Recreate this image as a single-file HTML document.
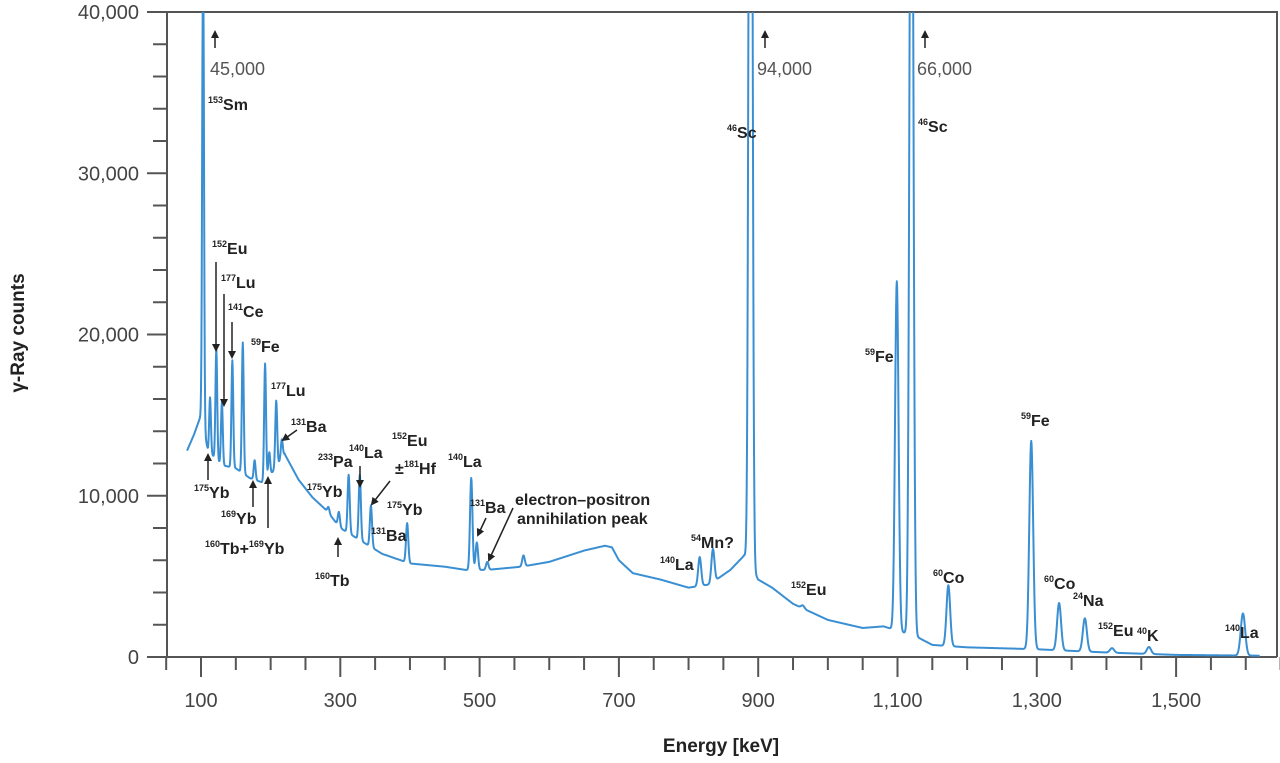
<!DOCTYPE html>
<html><head><meta charset="utf-8">
<style>
html,body{margin:0;padding:0;background:#fff;}
svg{display:block;}
.tick{font-family:"Liberation Sans",sans-serif;font-size:20px;fill:#444;}
.lab{font-family:"Liberation Sans Narrow","Liberation Sans",sans-serif;font-weight:bold;font-size:16px;fill:#222;}
.sup{font-size:9px;}
.big{font-family:"Liberation Sans",sans-serif;font-size:18px;fill:#555;}
.title{font-family:"Liberation Sans",sans-serif;font-weight:bold;font-size:19px;fill:#222;}
</style></head>
<body>
<svg id="chart" width="1280" height="763" viewBox="0 0 1280 763">
<defs>
<clipPath id="pc"><rect x="167" y="12" width="1111" height="660"/></clipPath>
<marker id="ah" markerWidth="8" markerHeight="8" refX="6" refY="4" orient="auto" markerUnits="userSpaceOnUse"><path d="M0,0 L8,4 L0,8 Z" fill="#222"/></marker>
</defs>
<g id="axes"></g>
<g id="series" clip-path="url(#pc)"></g>
<g id="ann"></g>
<text class="title" transform="translate(24,333) rotate(-90)" text-anchor="middle">γ-Ray counts</text>
<text class="title" x="721" y="752" text-anchor="middle">Energy [keV]</text>
</svg>
<script>
// ---- data ----
const baseE = [80,90,100,110,130,150,170,190,205,220,240,260,280,300,330,360,400,450,480,510,560,600,650,680,690,700,720,760,800,830,860,880,900,920,950,1000,1050,1080,1110,1130,1150,1200,1300,1400,1500,1620];
const baseC = [12800,13800,15000,12800,11900,11700,11100,10800,11600,12600,11000,9900,9100,8000,7200,6400,5800,5600,5400,5400,5600,5900,6600,6900,6800,6000,5200,4800,4300,4500,5400,6300,4800,4300,3300,2300,1800,1900,1500,1200,750,600,480,280,130,80];
const peakE = [103,113,122,130,145,160,177,192,198,208,216,283,298,312,328,344,356,396,488,496,511,563,816,835,889,964,1099,1120,1173,1292,1332,1369,1408,1461,1596];
const peakH = [45000,16100,19100,15800,18400,19500,12200,18200,12700,15900,13500,9300,9000,11300,11300,9400,6500,8300,11100,7100,5900,6300,6200,6700,94000,3200,23300,66000,4450,13400,3350,2400,550,620,2700];
const yTicks = [0,10000,20000,30000,40000];
const yTickLabels = ["0","10,000","20,000","30,000","40,000"];
const xTicks = [100,300,500,700,900,1100,1300,1500];
const xTickLabels = ["100","300","500","700","900","1,100","1,300","1,500"];

// ---- scales ----
const X = e => 201 + (e - 100) * 0.6965;
const Y = v => 657 - v * (645 / 40000);
const NS = "http://www.w3.org/2000/svg";
function mk(tag, attrs, parent){const el=document.createElementNS(NS,tag);for(const k in attrs)el.setAttribute(k,attrs[k]);parent.appendChild(el);return el;}

// ---- axes ----
const ax = document.getElementById('axes');
const frame = mk('path',{d:'M167,12 L1277,12 L1277,657 M167,12 L167,657 L1277,657',fill:'none',stroke:'#555','stroke-width':2},ax);


for(let v=0; v<=40000; v+=2000){
  const major = v % 10000 === 0;
  const t = mk('line',{x1:major?147:153,x2:167,y1:Y(v),y2:Y(v),stroke:'#555','stroke-width':2},ax);
  
  
}
yTicks.forEach((v,i)=>{
  const t = mk('text',{x:139,y:Y(v)+7,'text-anchor':'end',class:'tick'},ax);
  t.textContent = yTickLabels[i];
  
  
});
for(let e=50; e<=1650; e+=50){
  const major = (e - 100) % 200 === 0;
  const t = mk('line',{x1:X(e),x2:X(e),y1:657,y2:major?677:670,stroke:'#555','stroke-width':2},ax);
  
  
}
xTicks.forEach((e,i)=>{
  const t = mk('text',{x:X(e),y:707,'text-anchor':'middle',class:'tick'},ax);
  t.textContent = xTickLabels[i];
  
  
});

// ---- spectrum ----
function base(e){
  if(e<=baseE[0]) return baseC[0];
  for(let i=1;i<baseE.length;i++){ if(e<=baseE[i]){const t=(e-baseE[i-1])/(baseE[i]-baseE[i-1]);return baseC[i-1]+t*(baseC[i]-baseC[i-1]);} }
  return baseC[baseC.length-1];
}
let d='';
for(let e=80; e<=1620; e+=0.5){
  const b = base(e);
  let c = b;
  for(let k=0;k<peakE.length;k++){
    const s = 1.1 + peakE[k]*0.0013;
    const dx = e - peakE[k];
    if(Math.abs(dx) < 6*s){ const h = Math.max(0, peakH[k] - base(peakE[k])); c += h*Math.exp(-dx*dx/(2*s*s)); }
  }
  d += (d?'L':'M') + X(e).toFixed(2) + ',' + Math.max(Y(c),0).toFixed(2);
}
const line = mk('path',{d:d,fill:'none',stroke:'#3a8fd3','stroke-width':2,'stroke-linejoin':'round'},document.getElementById('series'));



// ---- annotations ----
const ann = document.getElementById('ann');
const labels = [
 [208,110,'153','Sm'],[727,138,'46','Sc'],[918,132,'46','Sc'],
 [212,254,'152','Eu'],[221,288,'177','Lu'],[228,317,'141','Ce'],[251,352,'59','Fe'],
 [271,396,'177','Lu'],[291,432,'131','Ba'],[194,498,'175','Yb'],[221,524,'169','Yb'],
 [318,467,'233','Pa'],[349,458,'140','La'],[392,446,'152','Eu'],[404,474,'181','Hf'],
 [307,497,'175','Yb'],[371,541,'131','Ba'],[387,515,'175','Yb'],[315,586,'160','Tb'],
 [448,467,'140','La'],[470,513,'131','Ba'],[660,570,'140','La'],[691,548,'54','Mn?'],
 [791,595,'152','Eu'],[865,362,'59','Fe'],[933,583,'60','Co'],[1021,426,'59','Fe'],
 [1044,589,'60','Co'],[1073,606,'24','Na'],[1098,636,'152','Eu'],[1137,641,'40','K'],[1225,638,'140','La']
];
labels.forEach(l=>{
  const t = mk('text',{x:l[0],y:l[1],class:'lab'},ann);
  const s = mk('tspan',{class:'sup',dy:-7},t); s.textContent=l[2];
  const m = mk('tspan',{dy:7},t); m.textContent=l[3];
  
  
});
// compound label
(function(){
  const t = mk('text',{x:205,y:554,class:'lab'},ann);
  let s=mk('tspan',{class:'sup',dy:-7},t); s.textContent='160';
  s=mk('tspan',{dy:7},t); s.textContent='Tb+';
  s=mk('tspan',{class:'sup',dy:-7},t); s.textContent='169';
  s=mk('tspan',{dy:7},t); s.textContent='Yb';
  
  
  const pm = mk('text',{x:395,y:474,class:'lab'},ann); pm.textContent='±';
  
  
  const a1 = mk('text',{x:515,y:505,class:'lab'},ann); a1.textContent='electron–positron';
  
  
  const a2 = mk('text',{x:517,y:524,class:'lab'},ann); a2.textContent='annihilation peak';
  
  
})();
const bigs = [[210,75,'45,000',215],[757,75,'94,000',765],[917,75,'66,000',925]];
bigs.forEach(b=>{
  const t = mk('text',{x:b[0],y:b[1],class:'big'},ann); t.textContent=b[2];
  
  
  const a = mk('line',{x1:b[3],y1:48,x2:b[3],y2:32,stroke:'#222','stroke-width':1.5,'marker-end':'url(#ah)'},ann);
  
  
});
const arrows = [
 [216,262,216,350],[224,294,224,405],[232,322,232,357],[297,430,283,440],
 [208,480,208,455],[253,507,253,482],[268,528,268,478],[360,466,360,486],
 [390,481,372,504],[338,557,338,539],[486,518,478,535],[513,508,489,560]
];
arrows.forEach(a=>{
  const l = mk('line',{x1:a[0],y1:a[1],x2:a[2],y2:a[3],stroke:'#222','stroke-width':1.5,'marker-end':'url(#ah)'},ann);
  
  
});
</script>
</body></html>
